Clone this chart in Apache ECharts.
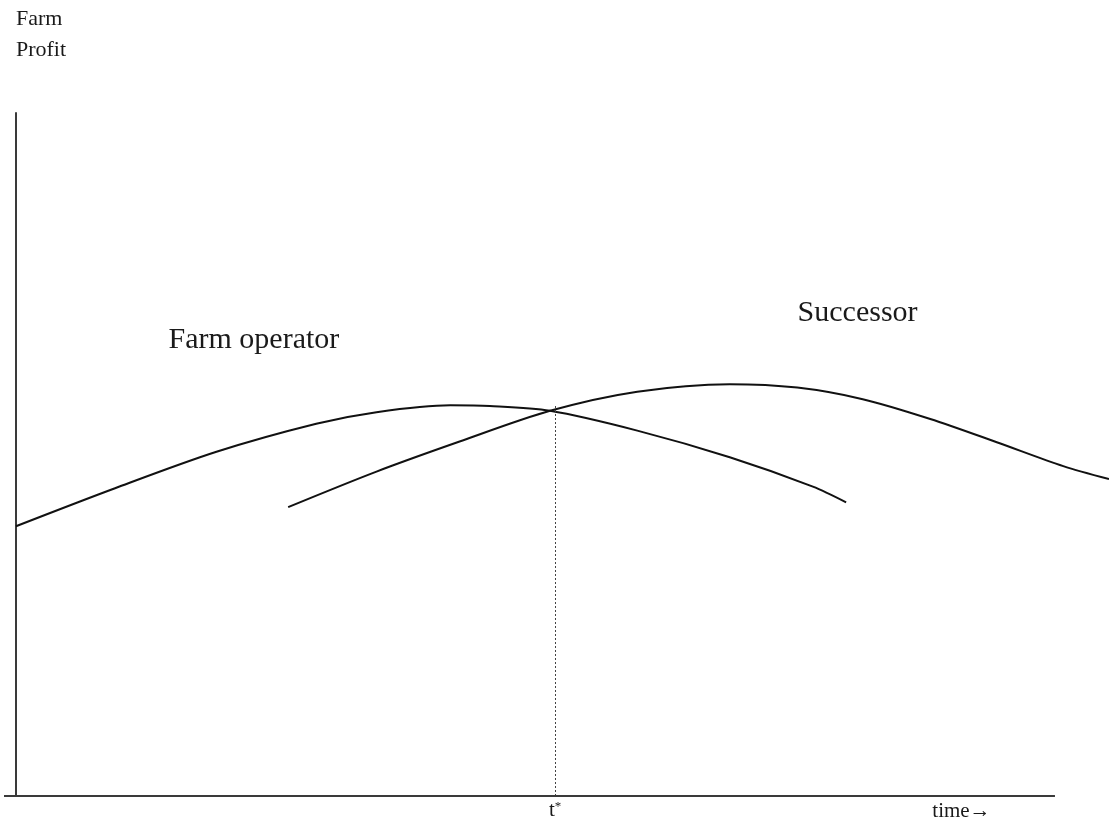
<!DOCTYPE html>
<html>
<head>
<meta charset="utf-8">
<script src="https://cdn.jsdelivr.net/npm/echarts@6/dist/echarts.min.js"></script>
<style>
  html, body { margin: 0; padding: 0; background: #fff; }
  #main { width: 1109px; height: 825px; }
</style>
</head>
<body>
<div id="main"></div>
<script>
// values (time and profit in arbitrary units)
var operatorTime = [0, 9.6, 19.3, 28.9, 34.7, 41.8, 45.6, 51.4, 59.8, 68.7, 76.7, 79.9];
var operatorProfit = [39.5, 45.1, 50.4, 54.5, 56.2, 57.2, 57.1, 56.4, 53.5, 49.6, 45.3, 43.0];
var successorTime = [26.2, 34.7, 42.7, 51.4, 59.8, 68.7, 75.2, 81.5, 88.0, 94.4, 100.8, 105.2];
var successorProfit = [42.3, 47.5, 51.9, 56.4, 59.2, 60.3, 59.8, 58.1, 55.2, 51.8, 48.3, 46.4];
var tStar = 51.9;
var tStarTop = 57.4;
var axisStart = -1.15;
var axisEnd = 100;

function pairs(xs, ys) {
  return xs.map(function (x, i) { return [x, ys[i]]; });
}

var font = '"Liberation Serif", "DejaVu Serif", serif';
var txt = '#1a1a1a';

var chart = echarts.init(document.getElementById('main'));
chart.setOption({
  animation: false,
  backgroundColor: '#fff',
  textStyle: { fontFamily: font },
  grid: { left: 4, right: 0, top: 113, bottom: 29 },
  xAxis: {
    type: 'value',
    min: axisStart,
    max: 105.2,
    axisLine: { show: false },
    axisTick: { show: false },
    axisLabel: { show: false },
    splitLine: { show: false }
  },
  yAxis: {
    type: 'value',
    min: 0,
    max: 100,
    name: 'Farm\nProfit',
    nameLocation: 'end',
    nameGap: 47,
    nameTextStyle: {
      fontFamily: font, fontSize: 22, color: txt,
      align: 'left', verticalAlign: 'bottom', lineHeight: 31
    },
    axisLine: { show: true, onZero: true, lineStyle: { color: '#3a3a3a', width: 2 } },
    axisTick: { show: false },
    axisLabel: { show: false },
    splitLine: { show: false }
  },
  series: [
    {
      name: 'Farm operator',
      type: 'line',
      smooth: 0.3,
      clip: false,
      showSymbol: false,
      data: pairs(operatorTime, operatorProfit),
      lineStyle: { color: '#111', width: 2 },
      markPoint: {
        symbol: 'circle', symbolSize: 0,
        label: { show: true, fontFamily: font, fontSize: 30, color: txt, formatter: '{b}' },
        data: [{ name: 'Farm operator', coord: [22.9, 66.8] }]
      },
      markLine: {
        symbol: 'none',
        silent: true,
        lineStyle: { color: '#444', width: 1, type: [2, 2] },
        label: {
          show: true, position: 'start', distance: 4,
          formatter: 't{s|*}', fontFamily: font, fontSize: 21, color: txt,
          rich: { s: { fontSize: 13, verticalAlign: 'top', padding: [0, 0, 8, 0], fontFamily: font, color: txt } }
        },
        data: [[{ coord: [tStar, 0] }, { coord: [tStar, tStarTop] }]]
      }
    },
    {
      name: 'Successor',
      type: 'line',
      smooth: 0.3,
      clip: false,
      showSymbol: false,
      data: pairs(successorTime, successorProfit),
      lineStyle: { color: '#111', width: 2 },
      markPoint: {
        symbol: 'circle', symbolSize: 0,
        label: { show: true, fontFamily: font, fontSize: 30, color: txt, formatter: '{b}' },
        data: [
          { name: 'Successor', coord: [81.0, 70.7] },
          { name: 'time\u2192', coord: [91.0, 0], label: { fontSize: 21, offset: [0, 15] } }
        ]
      },
      markLine: {
        symbol: 'none',
        silent: true,
        label: { show: false },
        lineStyle: { color: '#3a3a3a', width: 2, type: 'solid' },
        data: [[{ coord: [axisStart, 0] }, { coord: [axisEnd, 0] }]]
      }
    }
  ]
});
</script>
</body>
</html>
